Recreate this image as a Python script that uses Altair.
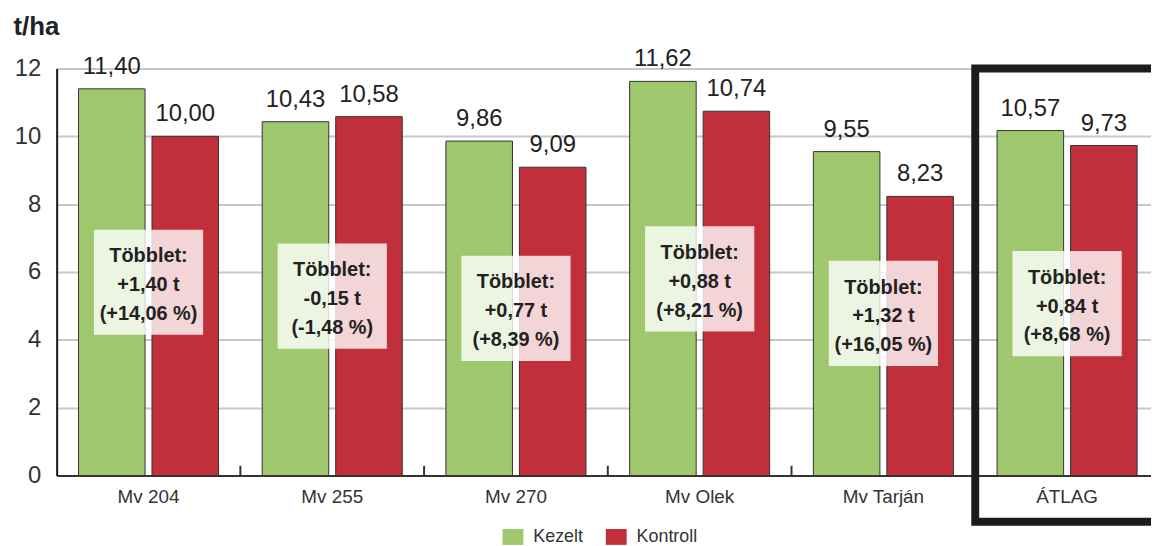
import altair as alt
import pandas as pd

groups = ["Mv 204", "Mv 255", "Mv 270", "Mv Olek", "Mv Tarján", "ÁTLAG"]
series = ["Kezelt", "Kontroll"]
kezelt = [11.40, 10.43, 9.86, 11.62, 9.55, 10.17]
kontroll = [10.00, 10.58, 9.09, 10.74, 8.23, 9.73]
kezelt_labels = ["11,40", "10,43", "9,86", "11,62", "9,55", "10,57"]
kontroll_labels = ["10,00", "10,58", "9,09", "10,74", "8,23", "9,73"]
diff_t = ["+1,40 t", "-0,15 t", "+0,77 t", "+0,88 t", "+1,32 t", "+0,84 t"]
diff_pct = ["(+14,06 %)", "(-1,48 %)", "(+8,39 %)", "(+8,21 %)", "(+16,05 %)", "(+8,68 %)"]
box_center = [5.70, 5.29, 4.93, 5.80, 4.78, 5.07]
box_half = 1.55
y_ticks = [0, 2, 4, 6, 8, 10, 12]

FONT = "Liberation Sans"
GREEN = "#9fc76e"
RED = "#c1303a"

rows = []
for i, g in enumerate(groups):
    rows.append({"group": g, "series": "Kezelt", "value": kezelt[i], "label": kezelt_labels[i]})
    rows.append({"group": g, "series": "Kontroll", "value": kontroll[i], "label": kontroll_labels[i]})
bars_df = pd.DataFrame(rows)

box_df = pd.DataFrame({
    "group": groups,
    "lo": [c - box_half for c in box_center],
    "hi": [c + box_half for c in box_center],
    "mid": box_center,
    "txt": ["Többlet:\n" + t + "\n" + p for t, p in zip(diff_t, diff_pct)],
})

tick_df = pd.DataFrame({"group": groups[1:]})
frame_df = pd.DataFrame({"group": ["ÁTLAG"]})

xscale = alt.Scale(domain=groups, range=[0, 1110], paddingInner=0, paddingOuter=0)
yscale = alt.Scale(domain=[0, 12], nice=False, zero=True)
off_scale = alt.Scale(domain=series, paddingInner=0.0946, paddingOuter=0.297)

xaxis = alt.Axis(title=None, labelAngle=0, ticks=False, labelFontSize=19,
                 labelColor="#333333", labelPadding=12, labelFont=FONT,
                 domainColor="#333333", domainWidth=2)
yaxis = alt.Axis(values=y_ticks, title="t/ha", titleAngle=0, titleX=-44, titleY=-42,
                 titleAlign="left", titleBaseline="middle", titleFontSize=26,
                 titleFontWeight="bold", titleColor="#222222", titleFont=FONT,
                 ticks=False, labelFontSize=24, labelColor="#333333", labelFont=FONT,
                 labelPadding=16, grid=True, gridColor="#c8c8c8", gridWidth=2,
                 domainColor="#1a1a1a", domainWidth=2)

X = alt.X("group:N", sort=groups, scale=xscale, axis=xaxis)

base = alt.Chart(bars_df)

bars = base.mark_bar(stroke="#333333", strokeWidth=1).encode(
    x=X,
    xOffset=alt.XOffset("series:N", scale=off_scale, sort=series),
    y=alt.Y("value:Q", scale=yscale, axis=yaxis),
    color=alt.Color("series:N", sort=series,
                    scale=alt.Scale(domain=series, range=[GREEN, RED]),
                    legend=alt.Legend(title=None, orient="none", legendX=449, legendY=461,
                                      direction="horizontal",
                                      symbolType="M-1,-0.76L1,-0.76L1,0.76L-1,0.76Z",
                                      symbolSize=441, symbolStrokeWidth=0,
                                      labelFontSize=18, labelFont=FONT, labelColor="#333333",
                                      labelOffset=10, columnPadding=22)),
)

labels = base.mark_text(fontSize=24, font=FONT, color="#222222", baseline="alphabetic", dy=-15).encode(
    x=X,
    xOffset=alt.XOffset("series:N", scale=off_scale, sort=series),
    y=alt.Y("value:Q", scale=yscale, axis=yaxis),
    text="label:N",
)

ticks = alt.Chart(tick_df).mark_rule(color="#333333", strokeWidth=2).encode(
    x=alt.X("group:N", sort=groups, scale=xscale, axis=xaxis, bandPosition=0),
    y=alt.datum(0),
    y2=alt.datum(0.29),
)

boxes = alt.Chart(box_df).mark_bar(width=110, color="white", opacity=0.8).encode(
    x=X,
    y=alt.Y("lo:Q", scale=yscale, axis=yaxis),
    y2="hi:Q",
)

box_text = alt.Chart(box_df).mark_text(fontSize=20, fontWeight="bold", font=FONT, color="#222222",
                                       lineBreak="\n", lineHeight=29, baseline="middle", dy=-26).encode(
    x=X,
    y=alt.Y("mid:Q", scale=yscale, axis=yaxis),
    text="txt:N",
)

frame = alt.Chart(frame_df).mark_rect(fillOpacity=0, stroke="#1c1c1c", strokeWidth=8, clip=False).encode(
    x=X,
    y=alt.datum(12),
    y2=alt.datum(-1.36),
)

chart = alt.layer(bars, ticks, labels, boxes, box_text, frame).properties(
    width=1102, height=410,
    autosize=alt.AutoSizeParams(type="none"),
    padding={"left": 49, "top": 59, "right": 0, "bottom": 72},
).configure_view(stroke=None).configure(background="white")

chart.save("out.html", embed_options={"renderer": "svg", "actions": False})
